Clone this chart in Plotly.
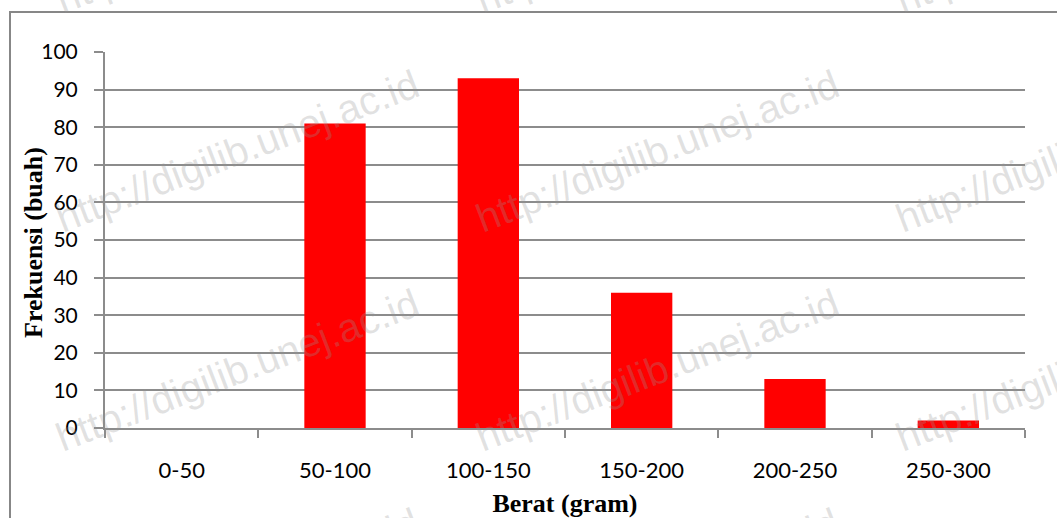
import plotly.graph_objects as go

# Weight classes (gram) and fruit counts
categories = ["0-50", "50-100", "100-150", "150-200", "200-250", "250-300"]
frequency = [0, 81, 93, 36, 13, 2]
y_ticks = [0, 10, 20, 30, 40, 50, 60, 70, 80, 90, 100]

WATERMARK = "http://digilib.unej.ac.id"

W, H = 1057, 518
ML, MR, MT, MB = 105, 32, 52, 90
PW, PH = W - ML - MR, H - MT - MB
GRID = "#8c8c8c"


def px_to_paper(px, py):
    return (px - ML) / PW, (H - MB - py) / PH


fig = go.Figure(
    go.Bar(
        x=categories,
        y=frequency,
        marker=dict(color="#ff0000", line=dict(width=0)),
        showlegend=False,
    )
)

# outer chart frame
fx0, fy0 = px_to_paper(10, 12)
fx1, fy1 = px_to_paper(1070, 530)
fig.add_shape(
    type="rect", xref="paper", yref="paper",
    x0=fx0, y0=fy1, x1=fx1, y1=fy0,
    line=dict(color="#878787", width=2), layer="below",
)

# vertical axis title, set close to the two-digit tick labels
tx, ty = px_to_paper(33, 243)
fig.add_annotation(
    text="<b>Frekuensi (buah)</b>", xref="paper", yref="paper", x=tx, y=ty,
    xanchor="center", yanchor="middle", showarrow=False, textangle=-90,
    font=dict(family="Liberation Serif, Times New Roman", size=26, color="black"),
)

# repeated site watermark
for cx in (237, 657, 1077):
    for cy in (-68, 151, 370, 589):
        ax, ay = px_to_paper(cx, cy)
        fig.add_annotation(
            text=WATERMARK, xref="paper", yref="paper", x=ax, y=ay,
            xanchor="center", yanchor="middle", showarrow=False,
            textangle=-21,
            font=dict(family="Liberation Sans, Arial", size=40,
                      color="rgba(150,150,150,0.28)"),
        )

fig.update_layout(
    width=W, height=H,
    margin=dict(l=ML, r=MR, t=MT, b=MB, autoexpand=False),
    paper_bgcolor="white", plot_bgcolor="white",
    bargap=0.6,
    font=dict(family="Lato, Open Sans, sans-serif", color="black"),
)

fig.update_xaxes(
    type="category",
    tickson="boundaries",
    ticks="outside", ticklen=8, tickwidth=2, tickcolor=GRID,
    showline=True, linecolor=GRID, linewidth=2,
    showgrid=False,
    tickfont=dict(size=22, family="Lato, Open Sans, sans-serif"),
    ticklabelstandoff=22,
    title=dict(text="<b>Berat (gram)</b>", standoff=11,
               font=dict(family="Liberation Serif, Times New Roman", size=26)),
)

fig.update_yaxes(
    range=[0, 100],
    tickvals=y_ticks,
    ticks="outside", ticklen=9, tickwidth=2, tickcolor=GRID,
    showline=True, linecolor=GRID, linewidth=2,
    showgrid=True, gridcolor=GRID, gridwidth=2,
    zeroline=False,
    tickfont=dict(size=21, family="Lato, Open Sans, sans-serif"),
    ticklabelstandoff=12,
)

fig.write_html("out.html")
